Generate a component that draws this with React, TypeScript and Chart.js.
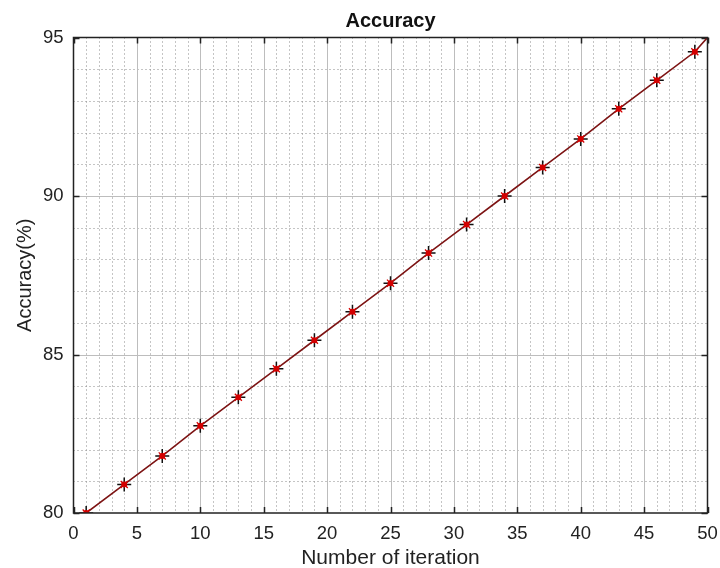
import React, { useEffect, useRef } from "react";
import { Chart, registerables } from "chart.js";

Chart.register(...registerables);

const iterations = [1, 4, 7, 10, 13, 16, 19, 22, 25, 28, 31, 34, 37, 40, 43, 46, 49];
const accuracy = [80.0, 80.9, 81.8, 82.75, 83.65, 84.55, 85.45, 86.35, 87.25, 88.2, 89.1, 90.0, 90.9, 91.8, 92.75, 93.65, 94.55];
const lineXs = [...iterations, 50];
const lineYs = [...accuracy, 95];
const xTicks = [0, 5, 10, 15, 20, 25, 30, 35, 40, 45, 50];
const yTicks = [80, 85, 90, 95];
const chartTitle = "Accuracy";

const FONT = "'Liberation Sans', Arial, Helvetica, sans-serif";

const gridPlugin = {
  id: "matlabGrid",
  beforeDatasetsDraw(chart: any) {
    const { ctx, chartArea } = chart;
    const xs = chart.scales.x;
    const ys = chart.scales.y;
    const { left, right, top, bottom } = chartArea;
    ctx.save();
    ctx.strokeStyle = "#8a8a8a";
    ctx.lineWidth = 1;
    ctx.setLineDash([1, 3]);
    for (let v = 1; v < 50; v++) {
      if (v % 5 === 0) continue;
      const px = Math.round(xs.getPixelForValue(v)) + 0.5;
      ctx.beginPath();
      ctx.moveTo(px, top);
      ctx.lineTo(px, bottom);
      ctx.stroke();
    }
    for (let v = 81; v < 95; v++) {
      if (v % 5 === 0) continue;
      const py = Math.round(ys.getPixelForValue(v)) + 0.5;
      ctx.beginPath();
      ctx.moveTo(left, py);
      ctx.lineTo(right, py);
      ctx.stroke();
    }
    ctx.setLineDash([]);
    ctx.strokeStyle = "#bdbdbd";
    for (const v of xTicks) {
      if (v === 0 || v === 50) continue;
      const px = Math.round(xs.getPixelForValue(v)) + 0.5;
      ctx.beginPath();
      ctx.moveTo(px, top);
      ctx.lineTo(px, bottom);
      ctx.stroke();
    }
    for (const v of yTicks) {
      if (v === 80 || v === 95) continue;
      const py = Math.round(ys.getPixelForValue(v)) + 0.5;
      ctx.beginPath();
      ctx.moveTo(left, py);
      ctx.lineTo(right, py);
      ctx.stroke();
    }
    ctx.strokeStyle = "#222";
    ctx.lineWidth = 1.5;
    for (const v of xTicks) {
      const px = Math.round(xs.getPixelForValue(v)) + 0.5;
      ctx.beginPath();
      ctx.moveTo(px, top);
      ctx.lineTo(px, top + 6);
      ctx.moveTo(px, bottom);
      ctx.lineTo(px, bottom - 6);
      ctx.stroke();
    }
    for (const v of yTicks) {
      const py = Math.round(ys.getPixelForValue(v)) + 0.5;
      ctx.beginPath();
      ctx.moveTo(left, py);
      ctx.lineTo(left + 6, py);
      ctx.moveTo(right, py);
      ctx.lineTo(right - 6, py);
      ctx.stroke();
    }
    ctx.restore();
  },
  afterDatasetsDraw(chart: any) {
    const { ctx, chartArea } = chart;
    ctx.save();
    ctx.strokeStyle = "#222";
    ctx.lineWidth = 1.5;
    ctx.strokeRect(chartArea.left, chartArea.top, chartArea.right - chartArea.left, chartArea.bottom - chartArea.top);
    ctx.fillStyle = "#111";
    ctx.font = `bold 20px ${FONT}`;
    ctx.textAlign = "center";
    ctx.textBaseline = "middle";
    ctx.fillText(chartTitle, (chartArea.left + chartArea.right) / 2, 21);
    ctx.restore();
  },
};

export default function App() {
  const ref = useRef<HTMLCanvasElement | null>(null);
  useEffect(() => {
    document.body.style.margin = "0";
    const pts = iterations.map((x, i) => ({ x, y: accuracy[i] }));
    const chart = new Chart(ref.current as HTMLCanvasElement, {
      type: "scatter",
      data: {
        datasets: [
          {
            data: lineXs.map((x, i) => ({ x, y: lineYs[i] })),
            showLine: true,
            borderColor: "#7d1414",
            borderWidth: 1.6,
            pointRadius: 0,
            order: 4,
          },
          {
            data: pts,
            showLine: false,
            pointStyle: "cross",
            pointRadius: 7,
            borderColor: "#111",
            borderWidth: 1.5,
            order: 3,
          },
          {
            data: pts,
            showLine: false,
            pointStyle: "crossRot",
            pointRadius: 5,
            borderColor: "#d40000",
            borderWidth: 1.3,
            order: 2,
          },
          {
            data: pts,
            showLine: false,
            pointStyle: "circle",
            pointRadius: 2.6,
            backgroundColor: "#d40000",
            borderColor: "#d40000",
            borderWidth: 1,
            order: 1,
          },
        ],
      },
      options: {
        animation: false,
        responsive: false,
        layout: { padding: { left: 0, right: 12.5, top: 37.5, bottom: 0 } },
        plugins: {
          legend: { display: false },
          tooltip: { enabled: false },
          title: { display: false },
        },
        scales: {
          x: {
            type: "linear",
            min: 0,
            max: 50,
            afterFit: (s: any) => {
              s.height = 55;
              s.paddingLeft = 0;
              s.paddingRight = 0;
            },
            afterBuildTicks: (s: any) => {
              s.ticks = xTicks.map((v) => ({ value: v }));
            },
            grid: { display: false, drawTicks: false },
            border: { display: false },
            ticks: {
              color: "#222",
              padding: 10,
              maxRotation: 0,
              autoSkip: false,
              font: { family: FONT, size: 18.5 },
            },
            title: {
              display: true,
              text: "Number of iteration",
              color: "#222",
              font: { family: FONT, size: 21, lineHeight: 0.9 },
              padding: { top: 0, bottom: 0 },
            },
          },
          y: {
            type: "linear",
            min: 80,
            max: 95,
            afterFit: (s: any) => {
              s.width = 73.5;
              s.paddingTop = 0;
              s.paddingBottom = 0;
            },
            afterBuildTicks: (s: any) => {
              s.ticks = yTicks.map((v) => ({ value: v }));
            },
            grid: { display: false, drawTicks: false },
            border: { display: false },
            ticks: {
              color: "#222",
              padding: 10,
              autoSkip: false,
              font: { family: FONT, size: 18.5 },
            },
            title: {
              display: true,
              text: "Accuracy(%)",
              color: "#222",
              font: { family: FONT, size: 20, lineHeight: 1 },
              padding: { top: 15.5, bottom: 0 },
            },
          },
        },
      },
      plugins: [gridPlugin],
    });
    return () => chart.destroy();
  }, []);
  return <canvas ref={ref} width={720} height={568} style={{ display: "block" }} />;
}
